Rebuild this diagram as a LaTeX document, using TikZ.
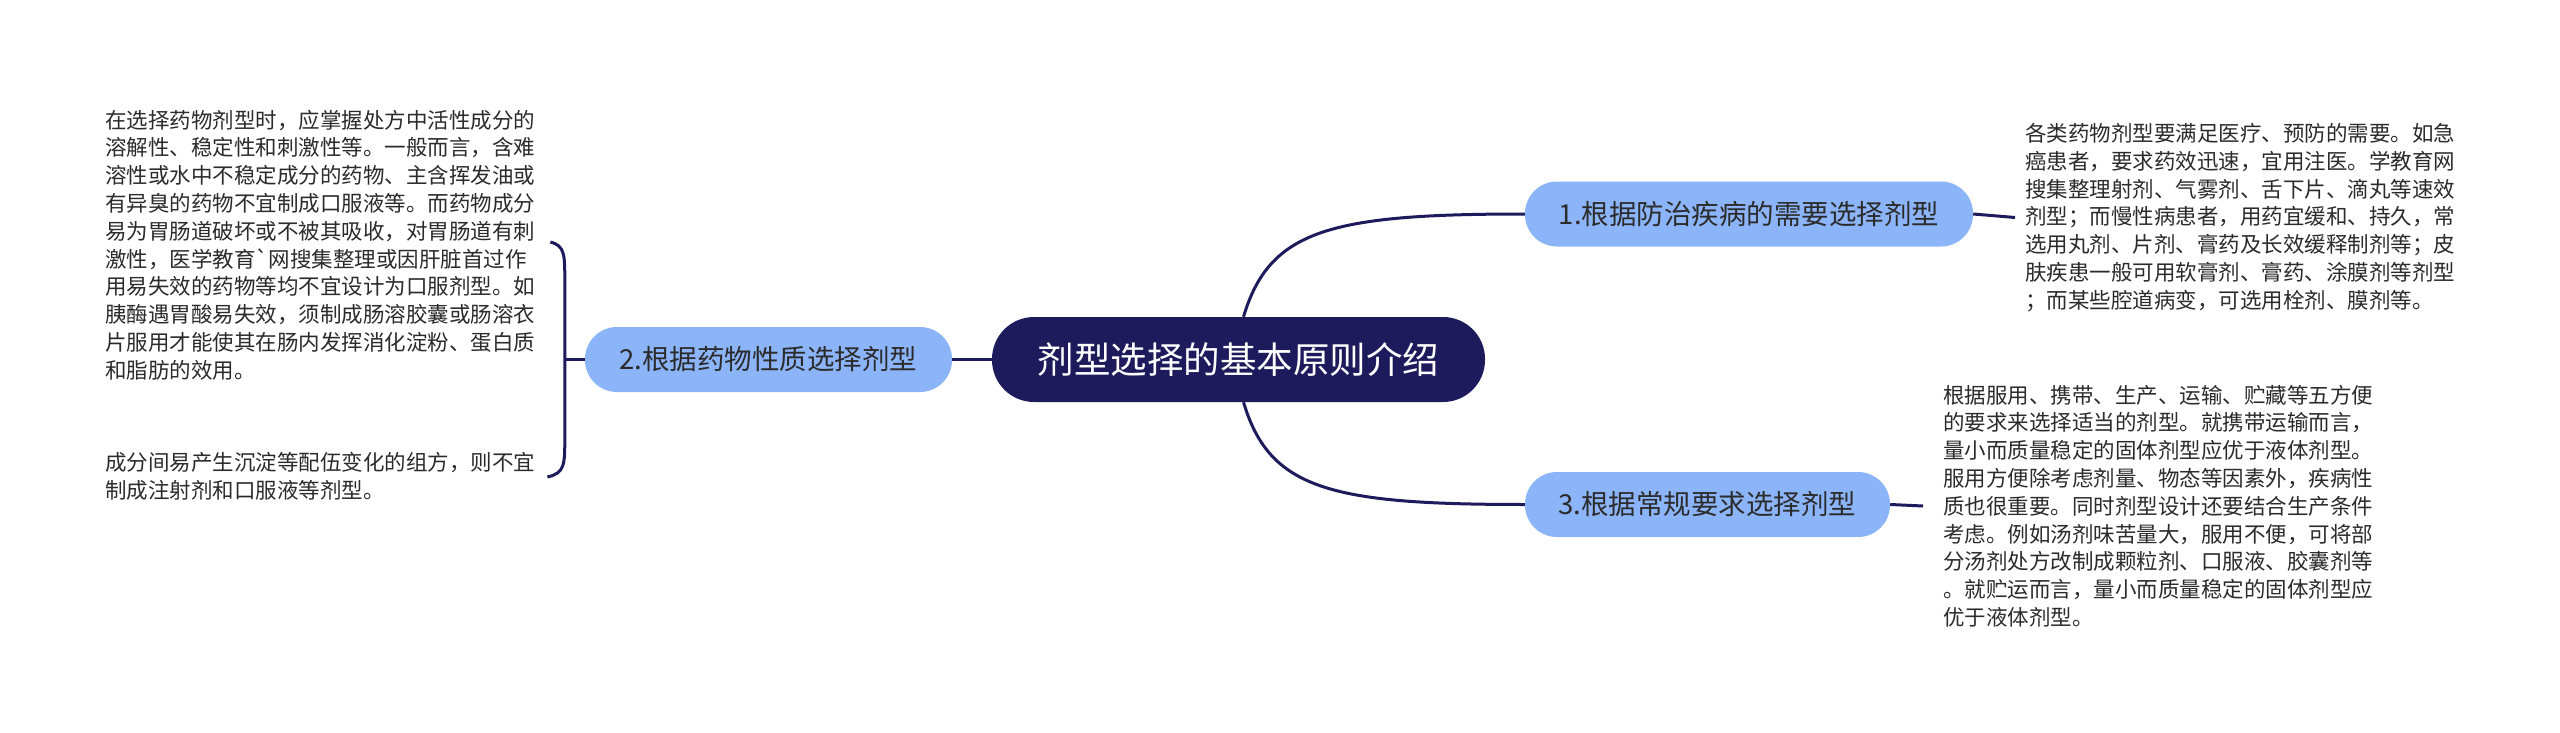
\documentclass[tikz,border=0pt]{standalone}
\usepackage{fontspec}
\setmainfont{Noto Sans CJK SC}[Ligatures=TeXOff]
\usetikzlibrary{calc}
\definecolor{navy}{HTML}{1E1B5C}
\definecolor{subblue}{HTML}{8CB4F8}
\definecolor{bodytext}{HTML}{2B2B2B}
\begin{document}
\begin{tikzpicture}[x=1pt,y=-1pt,
  root/.style={fill=navy, text=white, rounded corners=42pt, minimum width=493pt, minimum height=85pt, inner sep=0pt, font=\fontsize{36.5}{40}\selectfont},
  topic/.style={fill=subblue, text=bodytext, inner sep=0pt, minimum height=65pt, rounded corners=32pt, font=\fontsize{27.5}{32}\selectfont},
  body/.style={text=bodytext, inner sep=0pt, align=left, anchor=west, font=\fontsize{21.5}{27.8}\selectfont},
  link/.style={draw=navy, line width=3pt}]
\fill[white] (0,0) rectangle (2560,733);
\useasboundingbox (0,0) rectangle (2560,733);

\node[root] (c) at (1238.5,359.5) {剂型选择的基本原则介绍};
\node[topic, minimum width=448pt] (n1) at (1749,214) {1.根据防治疾病的需要选择剂型};
\node[topic, minimum width=367pt] (n2) at (768.5,359.5) {2.根据药物性质选择剂型};
\node[topic, minimum width=365pt] (n3) at (1707.5,504.5) {3.根据常规要求选择剂型};

\node[body] (t2a) at (105,245) {在选择药物剂型时，应掌握处方中活性成分的\\
溶解性、稳定性和刺激性等。一般而言，含难\\
溶性或水中不稳定成分的药物、主含挥发油或\\
有异臭的药物不宜制成口服液等。而药物成分\\
易为胃肠道破坏或不被其吸收，对胃肠道有刺\\
激性，医学教育\symbol{96}网搜集整理或因肝脏首过作\\
用易失效的药物等均不宜设计为口服剂型。如\\
胰酶遇胃酸易失效，须制成肠溶胶囊或肠溶衣\\
片服用才能使其在肠内发挥消化淀粉、蛋白质\\
和脂肪的效用。};
\node[body] (t2b) at (105,476) {成分间易产生沉淀等配伍变化的组方，则不宜\\
制成注射剂和口服液等剂型。};
\node[body] (t1) at (2025,217.5) {各类药物剂型要满足医疗、预防的需要。如急\\
癌患者，要求药效迅速，宜用注医。学教育网\\
搜集整理射剂、气雾剂、舌下片、滴丸等速效\\
剂型；而慢性病患者，用药宜缓和、持久，常\\
选用丸剂、片剂、膏药及长效缓释制剂等；皮\\
肤疾患一般可用软膏剂、膏药、涂膜剂等剂型\\
；而某些腔道病变，可选用栓剂、膜剂等。};
\node[body] (t3) at (1943,506) {根据服用、携带、生产、运输、贮藏等五方便\\
的要求来选择适当的剂型。就携带运输而言，\\
量小而质量稳定的固体剂型应优于液体剂型。\\
服用方便除考虑剂量、物态等因素外，疾病性\\
质也很重要。同时剂型设计还要结合生产条件\\
考虑。例如汤剂味苦量大，服用不便，可将部\\
分汤剂处方改制成颗粒剂、口服液、胶囊剂等\\
。就贮运而言，量小而质量稳定的固体剂型应\\
优于液体剂型。};

% connectors
\draw[link] (c.west) -- (n2.east);
\draw[link] ($(c.north)+(5,0)$) .. controls ($(c.north)+(31,-87)$) and ($(n1.west)+(-195,0)$) .. (n1.west);
\draw[link] ($(c.south)+(5,0)$) .. controls ($(c.south)+(31,87)$) and ($(n3.west)+(-195,0)$) .. (n3.west);
\draw[link] (n1.east) -- ($(t1.west)+(-10,0)$);
\draw[link] (n3.east) -- ($(t3.west)+(-20,0)$);

\coordinate (bm) at ($(n2.west)+(-20,0)$);
\coordinate (ba) at ($(t2a.east)+(15,-3)$);
\coordinate (bb) at ($(t2b.east)+(12,1)$);
\draw[link] (n2.west) -- (bm);
\draw[link] (ba) .. controls ($(ba -| bm)+(0,4)$) and ($(ba -| bm)+(0,12)$) .. ($(ba -| bm)+(0,40)$)
  -- ($(bb -| bm)+(0,-40)$) .. controls ($(bb -| bm)+(0,-12)$) and ($(bb -| bm)+(0,-4)$) .. (bb);
\end{tikzpicture}
\end{document}
